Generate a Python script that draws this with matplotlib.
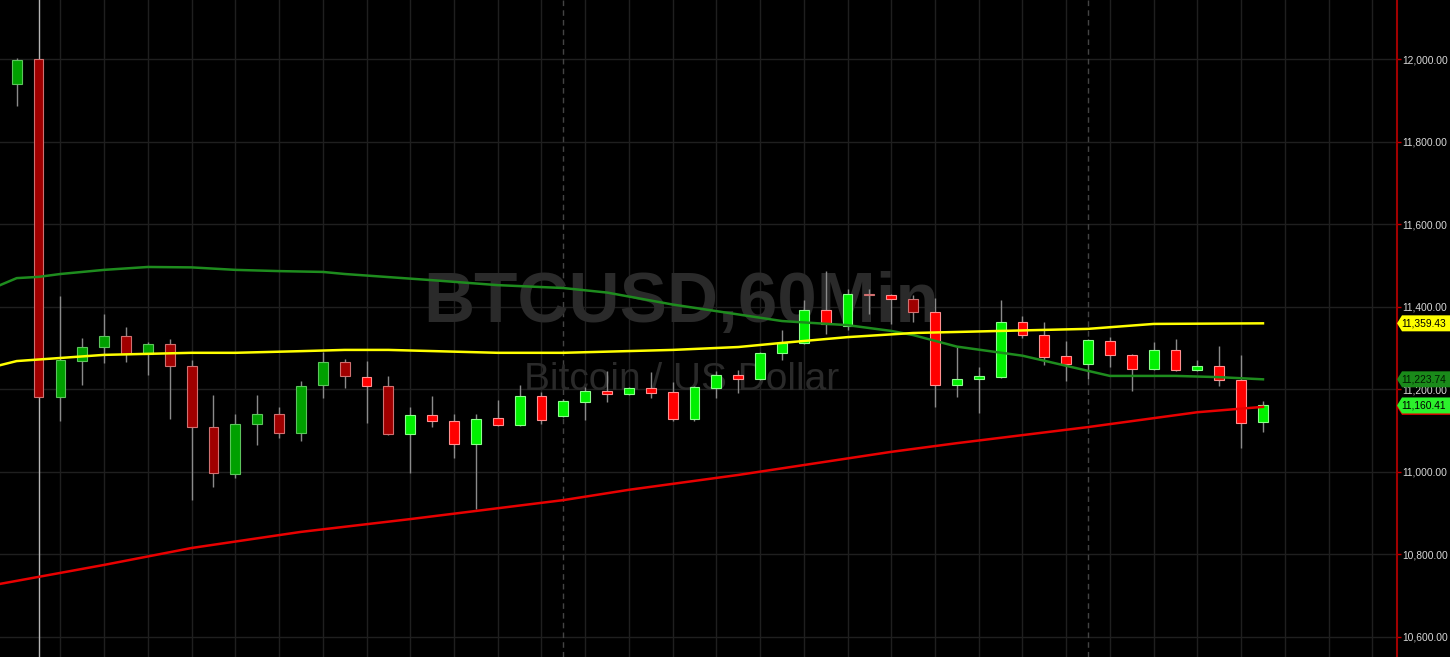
import matplotlib
matplotlib.use("Agg")
import matplotlib.pyplot as plt
from matplotlib.patches import Polygon

# hourly candles, oldest first
opens = [11939, 11999, 11181, 11269, 11303, 11329, 11286, 11310, 11256, 11108,
         10994, 11115, 11140, 11094, 11210, 11266, 11230, 11208, 11091, 11137,
         11123, 11067, 11130, 11113, 11183, 11135, 11169, 11196, 11188, 11203,
         11193, 11128, 11203, 11235, 11225, 11288, 11312, 11392, 11354, 11431,
         11429, 11419, 11388, 11210, 11225, 11230, 11363, 11332, 11281, 11261,
         11317, 11283, 11249, 11295, 11247, 11256, 11222, 11120]
highs = [12003, 12160, 11426, 11324, 11383, 11351, 11315, 11322, 11271, 11186,
         11140, 11186, 11157, 11220, 11290, 11273, 11269, 11232, 11157, 11183,
         11140, 11140, 11174, 11210, 11193, 11176, 11205, 11244, 11205, 11242,
         11218, 11208, 11244, 11247, 11290, 11344, 11417, 11487, 11443, 11443,
         11430, 11427, 11422, 11303, 11254, 11417, 11378, 11363, 11317, 11322,
         11327, 11285, 11315, 11322, 11271, 11305, 11283, 11171]
lows = [11886, 10530, 11123, 11210, 11264, 11266, 11235, 11128, 10931, 10962,
        10984, 11064, 11081, 11074, 11179, 11203, 11118, 11089, 10996, 11108,
        11033, 10909, 11111, 11111, 11115, 11132, 11125, 11169, 11186, 11179,
        11123, 11123, 11179, 11191, 11222, 11271, 11310, 11334, 11344, 11383,
        11358, 11363, 11157, 11181, 11142, 11227, 11324, 11259, 11220, 11225,
        11254, 11196, 11247, 11244, 11244, 11208, 11057, 11096]
closes = [11998, 11181, 11271, 11303, 11329, 11286, 11310, 11256, 11108, 10996,
          11115, 11140, 11094, 11208, 11266, 11232, 11208, 11091, 11137, 11123,
          11067, 11128, 11113, 11183, 11125, 11171, 11196, 11188, 11203, 11191,
          11128, 11205, 11235, 11225, 11288, 11312, 11392, 11358, 11431, 11427,
          11419, 11388, 11210, 11225, 11232, 11363, 11332, 11278, 11261, 11319,
          11283, 11249, 11295, 11247, 11256, 11222, 11118, 11160.41]
# candles drawn in the dimmer shade
dim_candles = [0, 1, 2, 3, 4, 5, 6, 7, 8, 9, 10, 11, 12, 13, 14, 15, 17, 39, 41]

# moving averages, read at candle positions
ma_green_x = [-0.76, 0, 1, 2, 4, 6, 8, 10, 12, 14, 15, 19, 22, 25, 27, 30, 31,
              33, 35, 38, 40, 41, 43, 46, 50, 53, 55, 57]
ma_green_y = [11452, 11469, 11472, 11479, 11489, 11496, 11495, 11489, 11486,
              11484, 11479, 11464, 11452, 11445, 11434, 11405, 11397, 11381,
              11365, 11355, 11341, 11331, 11303, 11281, 11232, 11232, 11229,
              11223.74]
ma_yellow_x = [-0.76, 0, 4, 8, 10, 13, 15, 17, 22, 25, 30, 33, 35, 38, 41, 45,
               49, 52, 57]
ma_yellow_y = [11258, 11268, 11283, 11288, 11288, 11292, 11295, 11295, 11288,
               11288, 11295, 11302, 11312, 11326, 11336, 11341, 11346, 11358,
               11359.43]
ma_red_x = [-0.76, 1, 4, 8, 13, 18, 25, 28, 33, 36, 40, 43, 49, 54, 57]
ma_red_y = [10728, 10745, 10774, 10815, 10854, 10885, 10931, 10956, 10992,
            11016, 11048, 11069, 11108, 11144, 11157]

price_ticks = [10600, 10800, 11000, 11200, 11400, 11600, 11800, 12000]
day_breaks = [25, 49]

font = "Liberation Sans"

fig = plt.figure(figsize=(14.5, 6.57), dpi=100, facecolor="black")
ax = fig.add_axes([0, 0, 1397 / 1450, 1])
ax.set_facecolor("black")
ax.set_xlim(-0.764, 63.13)
ax.set_ylim(10550.8, 12143.0)

# grid
for p in price_ticks:
    ax.axhline(p, color="#1f1f1f", lw=1, zorder=0.5)
for i in range(2, 64, 2):
    ax.axvline(i, color="#1f1f1f", lw=1, zorder=0.5)
for d in day_breaks:
    ax.axvline(d, color="#444444", lw=1, ls=(0, (4, 3)), zorder=0.6)

# watermark
ax.text(0.4875, 0.51, "BTCUSD,60Min", transform=ax.transAxes, ha="center",
        va="baseline", fontsize=51, fontweight="bold", family=font,
        color="#2a2a2a", zorder=1)
ax.text(0.488, 0.4064, "Bitcoin / US Dollar", transform=ax.transAxes,
        ha="center", va="baseline", fontsize=28, family=font,
        color="#2a2a2a", zorder=1)

# candles
for i in range(len(opens)):
    o, h, l, c = opens[i], highs[i], lows[i], closes[i]
    up = c >= o
    dim = i in dim_candles
    if up:
        face, edge = ("#00a000", "#5cc45c") if dim else ("#00f000", "#8cff8c")
    else:
        face, edge = ("#a00000", "#d07070") if dim else ("#ff0000", "#ff9090")
    wick = "#b4b4b4" if i == 1 else "#8a8a8a"
    ax.vlines(i, l, h, color=wick, lw=1, zorder=2)
    ax.bar(i, max(abs(c - o), 3), bottom=min(o, c), width=0.45,
           color=face, edgecolor=edge, linewidth=0.8, zorder=3)

# moving averages
ax.plot(ma_green_x, ma_green_y, color="#1e8c1e", lw=1.8, zorder=4)
ax.plot(ma_yellow_x, ma_yellow_y, color="#ffff00", lw=1.8, zorder=4)
ax.plot(ma_red_x, ma_red_y, color="#e80000", lw=1.8, zorder=4)

# price axis on the right
for s in ["top", "left", "bottom"]:
    ax.spines[s].set_visible(False)
ax.spines["right"].set_color("#a00000")
ax.spines["right"].set_linewidth(1.5)
ax.set_xticks([])
ax.yaxis.tick_right()
ax.set_yticks(price_ticks)
ax.set_yticklabels([f"{p:,.2f}" for p in price_ticks])
ax.tick_params(axis="y", colors="#c00000", length=3, width=1, pad=1,
               labelcolor="#d8d8d8", labelsize=7.4)
for lab in ax.get_yticklabels():
    lab.set_family(font)

# last-value tags
tr = ax.get_yaxis_transform()
tag_w = 53 / 1397
tip = 5 / 1397
half = 19.4


def tag(value, face, text_color, show_text=True):
    pts = [(1.0, value), (1.0 + tip, value + half), (1.0 + tag_w, value + half),
           (1.0 + tag_w, value - half), (1.0 + tip, value - half)]
    ax.add_patch(Polygon(pts, closed=True, transform=tr, clip_on=False,
                         facecolor=face, edgecolor="none", zorder=6))
    if show_text:
        ax.text(1.0 + 27 / 1397, value, f"{value:,.2f}", transform=tr,
                ha="center", va="center", fontsize=7.4, family=font,
                color=text_color, clip_on=False, zorder=7)


tag(ma_red_y[-1], "#e80000", "black", show_text=False)
tag(ma_yellow_y[-1], "#ffff00", "black")
tag(ma_green_y[-1], "#1a8a1a", "#001a00")
tag(closes[-1], "#2cf02c", "black")

fig.savefig("out.png", dpi=100, facecolor="black")
